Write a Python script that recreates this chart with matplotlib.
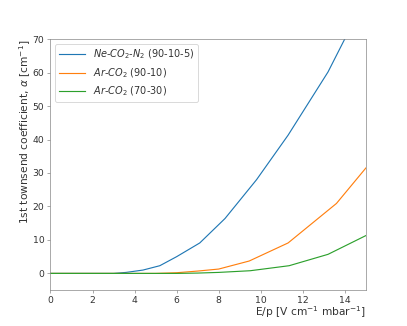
import matplotlib
matplotlib.use("Agg")
import matplotlib.pyplot as plt

# Data
ne_x = [0.0, 3.0, 3.6, 4.4, 5.2, 6.0, 7.1, 8.3, 9.8, 11.3, 13.2, 14.8]
ne_y = [0.0, 0.0, 0.3, 1.0, 2.3, 5.0, 9.1, 16.4, 28.0, 41.3, 60.2, 80.0]

ar9010_x = [0.0, 5.0, 6.0, 7.0, 8.0, 9.45, 11.3, 13.6, 15.0]
ar9010_y = [0.0, 0.0, 0.2, 0.7, 1.3, 3.7, 9.1, 20.9, 31.5]

ar7030_x = [0.0, 6.0, 7.0, 8.0, 9.5, 11.35, 13.2, 15.0]
ar7030_y = [0.0, 0.0, 0.1, 0.3, 0.8, 2.3, 5.7, 11.3]

labels = [r"$Ne$-$CO_2$-$N_2$ (90-10-5)", r"$Ar$-$CO_2$ (90-10)", r"$Ar$-$CO_2$ (70-30)"]

dpi = 63.6
fig = plt.figure(figsize=(407 / dpi, 326 / dpi), dpi=dpi)
ax = fig.add_axes([0.124, 0.110, 0.775, 0.770])

ax.plot(ne_x, ne_y, color="#1f77b4", lw=1.3, label=labels[0])
ax.plot(ar9010_x, ar9010_y, color="#ff7f0e", lw=1.3, label=labels[1])
ax.plot(ar7030_x, ar7030_y, color="#2ca02c", lw=1.3, label=labels[2])

ax.set_xlim(0, 15)
ax.set_ylim(-5, 70)
ax.set_xticks([0, 2, 4, 6, 8, 10, 12, 14])
ax.set_yticks([0, 10, 20, 30, 40, 50, 60, 70])

txtc = "#333333"
for s in ax.spines.values():
    s.set_color("#888888")
ax.tick_params(colors="#888888", labelcolor=txtc, labelsize=10.5)

ax.set_xlabel(r"E/p [V cm$^{-1}$ mbar$^{-1}$]", color=txtc, fontsize=12, loc="right", labelpad=-1)
ax.set_ylabel(r"1st townsend coefficient, $\alpha$ [cm$^{-1}$]", color=txtc, fontsize=12, loc="top", labelpad=-1)

leg = ax.legend(loc="upper left", fontsize=11, labelcolor=txtc, handlelength=2.7)

fig.savefig("out.png", dpi=dpi)
